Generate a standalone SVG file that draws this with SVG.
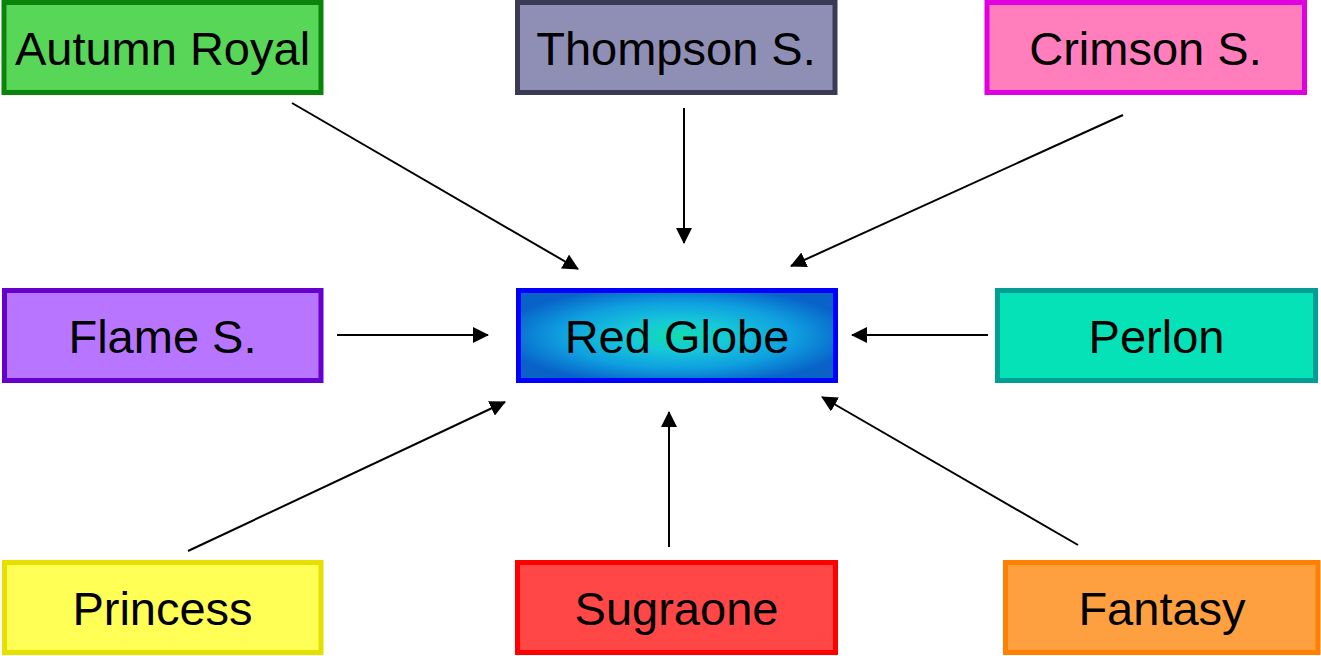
<svg xmlns="http://www.w3.org/2000/svg" width="1321" height="656" viewBox="0 0 1321 656">
  <style>
    .box { stroke-width: 5; }
    .lbl { font-family: "Liberation Sans", Arial, sans-serif; font-size: 47px; fill: #000; text-anchor: middle; }
    .edge { stroke: #000; stroke-width: 2; fill: none; marker-end: url(#arrow); }
  </style>
  <defs>
    <marker id="arrow" viewBox="0 0 16 16" refX="15" refY="8" markerWidth="16" markerHeight="16" markerUnits="userSpaceOnUse" orient="auto">
      <path d="M0,0 L16,8 L0,16 Z" fill="#000"/>
    </marker>
    <!-- box-shaped glow: teal core fading to blue on every edge -->
    <radialGradient id="globeFill" cx="0.5" cy="0.5" r="0.56">
      <stop offset="0" stop-color="#10dcb0"/>
      <stop offset="0.3" stop-color="#16c8d8"/>
      <stop offset="0.65" stop-color="#0fa0e0"/>
      <stop offset="1" stop-color="#0862c8"/>
    </radialGradient>
  </defs>

  <rect width="1321" height="656" fill="#fff"/>

  <g id="connectors">
    <line class="edge" x1="292" y1="103" x2="578" y2="269"/>
    <line class="edge" x1="684" y1="108" x2="684" y2="243"/>
    <line class="edge" x1="1123" y1="115" x2="791" y2="266"/>
    <line class="edge" x1="337" y1="335" x2="488" y2="335"/>
    <line class="edge" x1="988" y1="335" x2="852" y2="335"/>
    <line class="edge" x1="188" y1="551" x2="505" y2="402"/>
    <line class="edge" x1="669" y1="547" x2="669" y2="412"/>
    <line class="edge" x1="1078" y1="545" x2="822" y2="397"/>
  </g>

  <g id="autumn-royal">
    <rect class="box" x="4" y="2.5" width="317" height="90" fill="#57d657" stroke="#0a840a"/>
    <text class="lbl" x="162.5" y="65">Autumn Royal</text>
  </g>
  <g id="thompson">
    <rect class="box" x="517.5" y="2.5" width="317.5" height="90" fill="#8f8fb5" stroke="#3a3a55"/>
    <text class="lbl" x="676" y="65">Thompson S.</text>
  </g>
  <g id="crimson">
    <rect class="box" x="987" y="2.5" width="317.5" height="90" fill="#ff7ebb" stroke="#e000e0"/>
    <text class="lbl" x="1145.5" y="65">Crimson S.</text>
  </g>
  <g id="flame">
    <rect class="box" x="4.5" y="290.5" width="316.5" height="90" fill="#b875ff" stroke="#6600cc"/>
    <text class="lbl" x="162.5" y="353">Flame S.</text>
  </g>
  <g id="red-globe">
    <rect class="box" x="518.5" y="290.5" width="317" height="90" fill="url(#globeFill)" stroke="#0000ff"/>
    <text class="lbl" x="677" y="353">Red Globe</text>
  </g>
  <g id="perlon">
    <rect class="box" x="997.5" y="290.5" width="318" height="90" fill="#05e2b8" stroke="#009e94"/>
    <text class="lbl" x="1156.5" y="353">Perlon</text>
  </g>
  <g id="princess">
    <rect class="box" x="4.5" y="562.5" width="316.5" height="90" fill="#ffff55" stroke="#e6e000"/>
    <text class="lbl" x="162.5" y="625">Princess</text>
  </g>
  <g id="sugraone">
    <rect class="box" x="517.5" y="562.5" width="318" height="90" fill="#ff4747" stroke="#ff0000"/>
    <text class="lbl" x="676.5" y="625">Sugraone</text>
  </g>
  <g id="fantasy">
    <rect class="box" x="1005.5" y="562.5" width="312.5" height="90" fill="#ffa040" stroke="#ff7f00"/>
    <text class="lbl" x="1162" y="625">Fantasy</text>
  </g>
</svg>
